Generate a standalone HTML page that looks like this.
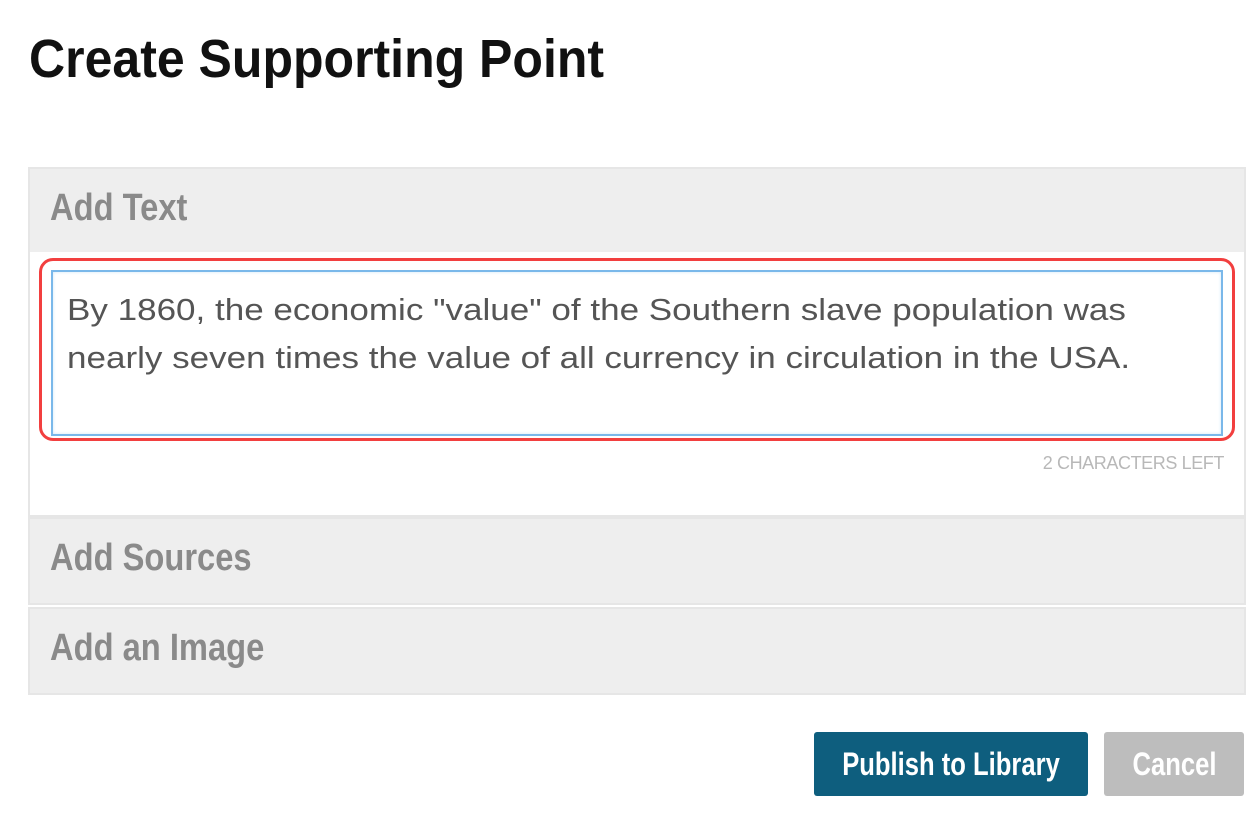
<!DOCTYPE html>
<html><head><meta charset="utf-8"><style>
body{margin:0;width:1256px;height:818px;background:#fff;font-family:"Liberation Sans",sans-serif;position:relative;overflow:hidden}
.a{position:absolute}
.c{display:inline-block;transform-origin:0 50%;white-space:nowrap;font-weight:bold}
.panel{position:absolute;left:28px;width:1214px;border:2px solid #e6e6e6;background:#eee}
.ph{position:absolute;left:20px;color:#8a8a8a;font-size:38px;font-weight:bold;transform:scaleX(0.86);transform-origin:0 50%;white-space:nowrap}
</style></head><body>
<div class="a" style="left:29px;top:26px;font-size:54px;line-height:66px;color:#111"><span class="c" style="transform:scaleX(0.926)">Create Supporting Point</span></div>

<div class="panel" style="top:167px;height:346px;background:#fff">
  <div class="a" style="left:0;top:0;width:1214px;height:83px;background:#eee">
    <div class="ph" style="top:18px">Add Text</div>
  </div>
  <div class="a" style="left:9px;top:89px;width:1196px;height:183px;border:3px solid #f23f3f;border-radius:14px;box-sizing:border-box"></div>
  <div class="a" style="left:21px;top:101px;width:1172px;height:166px;border:2px solid #7ab8ea;box-sizing:border-box;background:#fff;box-shadow:inset 0 0 3px #cfe6f8;color:#555;font-size:31px;line-height:48px;padding:14px 0 0 14px;font-family:'Liberation Sans',sans-serif">
    <div style="transform:scaleX(1.13);transform-origin:0 0;white-space:nowrap">By 1860, the economic "value" of the Southern slave population was<br>nearly seven times the value of all currency in circulation in the USA.</div>
  </div>
  <div class="a" style="right:20px;top:284px;font-size:18px;color:#b8b8b8;letter-spacing:-0.4px">2 CHARACTERS LEFT</div>
</div>

<div class="panel" style="top:517px;height:84px">
  <div class="ph" style="top:18px">Add Sources</div>
</div>
<div class="panel" style="top:607px;height:84px">
  <div class="ph" style="top:18px">Add an Image</div>
</div>

<div class="a" style="left:814px;top:732px;width:274px;height:64px;background:#0e5e7e;border-radius:3px;color:#fff;font-size:32px;line-height:64px;text-align:center"><span class="c" style="transform:scaleX(0.8);transform-origin:50% 50%">Publish to Library</span></div>
<div class="a" style="left:1104px;top:732px;width:140px;height:64px;background:#bdbdbd;border-radius:3px;color:#fff;font-size:32px;line-height:64px;text-align:center"><span class="c" style="transform:scaleX(0.8);transform-origin:50% 50%">Cancel</span></div>
</body></html>
